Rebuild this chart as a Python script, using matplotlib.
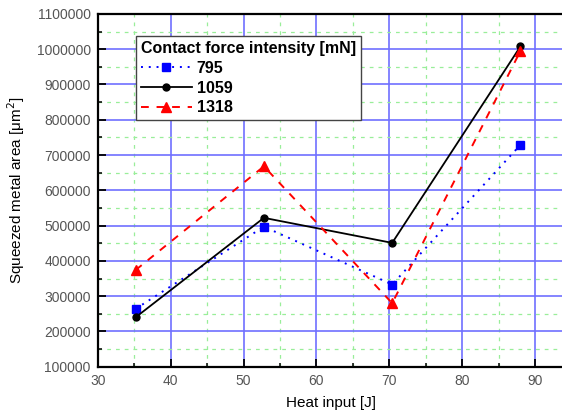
import matplotlib
matplotlib.use("Agg")
import matplotlib.pyplot as plt
from matplotlib.ticker import MultipleLocator, FuncFormatter

plt.rcParams["font.family"] = ["Liberation Sans", "DejaVu Sans"]

# data
heat_input = [35.2, 52.8, 70.4, 88.0]
area_795 = [264000, 497000, 333000, 729000]
area_1059 = [240000, 522000, 451000, 1008000]
area_1318 = [374000, 668000, 280000, 995000]
series_labels = ["795", "1059", "1318"]
legend_title = "Contact force intensity [mN]"


def main():
    fig = plt.figure(figsize=(5.62, 4.16), dpi=100)
    ax = fig.add_axes([0.1739, 0.1185, 0.83, 0.848])

    ax.plot(heat_input, area_795, color="#0000ff", linestyle=(0, (1, 3)), linewidth=1.4,
            marker="s", markersize=5.5, label=series_labels[0], zorder=3)
    ax.plot(heat_input, area_1059, color="black", linestyle="-", linewidth=1.3,
            marker="o", markersize=5, label=series_labels[1], zorder=3)
    ax.plot(heat_input, area_1318, color="#ff0000", linestyle=(0, (4, 4)), linewidth=1.4,
            marker="^", markersize=7, label=series_labels[2], zorder=3)

    ax.set_xlim(30, 94)
    ax.set_ylim(100000, 1100000)
    ax.xaxis.set_major_locator(MultipleLocator(10))
    ax.xaxis.set_minor_locator(MultipleLocator(5))
    ax.yaxis.set_major_locator(MultipleLocator(100000))
    ax.yaxis.set_minor_locator(MultipleLocator(50000))
    ax.yaxis.set_major_formatter(FuncFormatter(lambda v, p: f"{int(round(v))}"))

    ax.grid(which="major", color="#7070ff", linestyle="-", linewidth=1.2, zorder=0)
    ax.grid(which="minor", color="#99ee99", linestyle=(0, (3, 4)), linewidth=0.9, zorder=0)
    ax.set_axisbelow(True)

    ax.tick_params(which="major", direction="in", length=6, width=1.3, pad=5,
                   labelsize=10, labelcolor="#555555", top=False, right=False)
    ax.tick_params(which="minor", direction="in", length=3, width=1.1,
                   top=False, right=False)

    for side in ("left", "bottom", "top"):
        ax.spines[side].set_linewidth(1.6)
    ax.spines["right"].set_visible(False)

    ax.set_xlabel("Heat input [J]", fontsize=11, labelpad=6)
    ax.set_ylabel("Squeezed metal area [\u03bcm$^2$]", fontsize=11, labelpad=7)

    leg = ax.legend(title=legend_title, loc="upper left",
                    bbox_to_anchor=(0.082, 0.937),
                    title_fontproperties={"weight": "bold", "size": 11.5},
                    prop={"weight": "bold", "size": 11.5},
                    frameon=True, fancybox=False, framealpha=1,
                    edgecolor="#444444", borderpad=0.3, labelspacing=0.3,
                    handlelength=3.2, handletextpad=0.3, borderaxespad=0)
    leg.get_frame().set_linewidth(1.0)
    leg._legend_box.align = "left"

    fig.savefig("out.png", dpi=100)
    plt.close(fig)


if __name__ == "__main__":
    main()
